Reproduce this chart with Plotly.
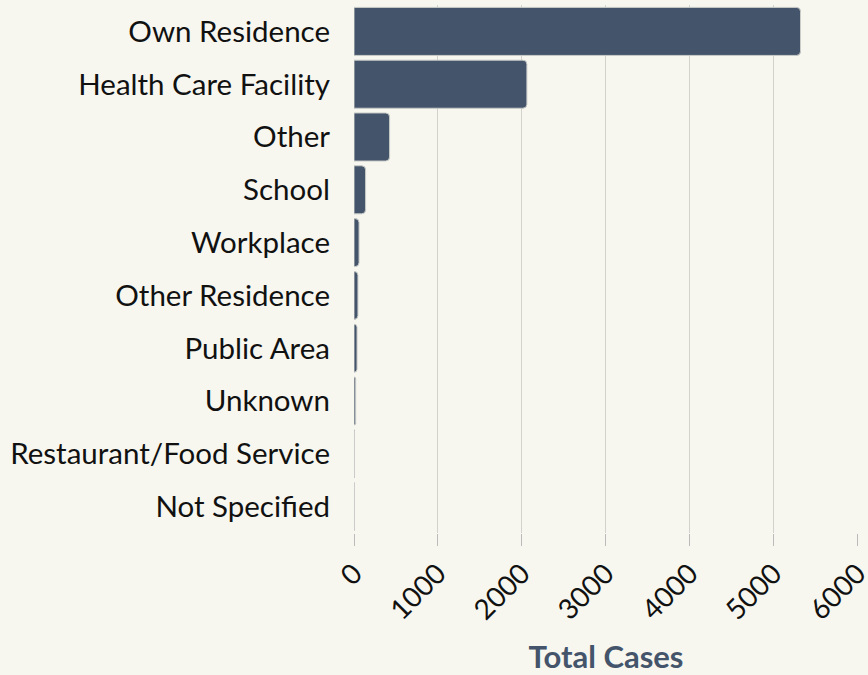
import plotly.graph_objects as go

categories = ["Own Residence", "Health Care Facility", "Other", "School", "Workplace",
              "Other Residence", "Public Area", "Unknown", "Restaurant/Food Service", "Not Specified"]
cases = [5320, 2060, 424, 138, 60, 47, 36, 20, 6, 3]
x_ticks = [0, 1000, 2000, 3000, 4000, 5000, 6000]

bg = "#f7f7f0"
bar_color = "#44546a"

fig = go.Figure(go.Bar(
    y=categories,
    x=cases,
    orientation="h",
    marker=dict(color=bar_color, line=dict(color="#c9ccc8", width=1), cornerradius=4),
    hoverinfo="x+y",
))

fig.update_layout(
    width=868, height=675,
    paper_bgcolor=bg, plot_bgcolor=bg,
    margin=dict(l=354, r=10, t=5, b=142),
    bargap=0.09,
    showlegend=False,
    font=dict(family="Lato, sans-serif", color="#111111"),
)
fig.update_yaxes(
    categoryorder="array", categoryarray=categories, autorange="reversed",
    tickfont=dict(size=29.5, color="#111111"), ticks="", showgrid=False,
    ticklabelstandoff=23, automargin=False,
)
fig.update_xaxes(
    range=[0, 6005], tickvals=x_ticks, ticktext=[str(v) for v in x_ticks],
    tickangle=-45, tickfont=dict(size=28, color="#111111"),
    ticklabeloverflow="allow",
    showgrid=True, gridcolor="#d2d2cc", gridwidth=1,
    ticks="outside", ticklen=12, tickcolor="#bbbbbb",
    zeroline=False, showline=False,
    title=dict(text="<b>Total Cases</b>", font=dict(size=31, color=bar_color), standoff=21),
    automargin=False,
)

fig.write_html("out.html", config={"displayModeBar": False},
               post_script="document.body.style.margin='0';document.body.style.background='%s';" % bg)
